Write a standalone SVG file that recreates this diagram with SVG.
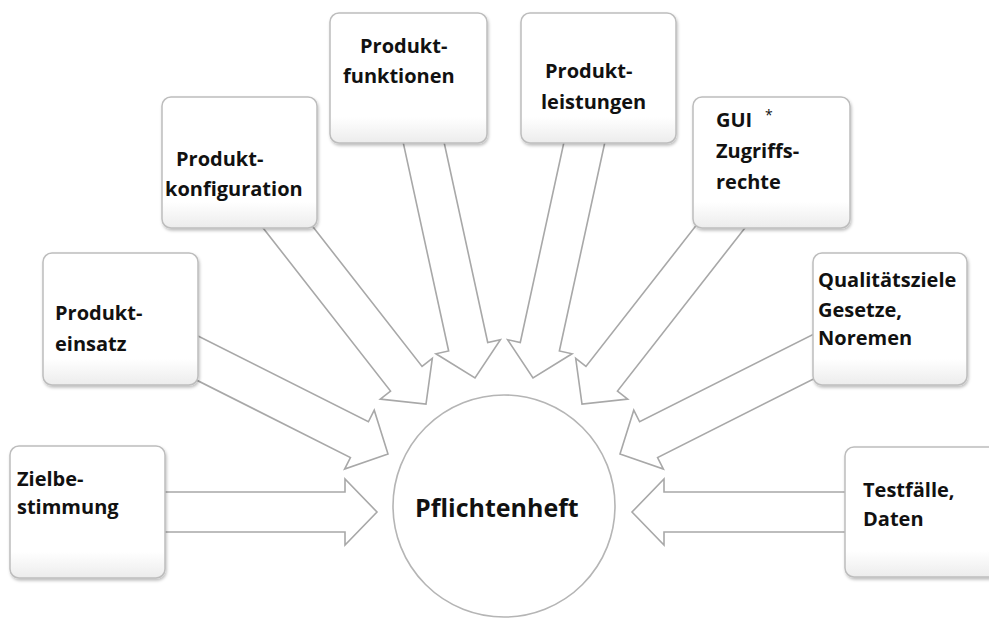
<svg xmlns="http://www.w3.org/2000/svg" width="989" height="627" viewBox="0 0 989 627">
<defs>
<linearGradient id="boxg" x1="0" y1="0" x2="0" y2="1">
<stop offset="0" stop-color="#ffffff"/>
<stop offset="0.8" stop-color="#ffffff"/>
<stop offset="1" stop-color="#ececec"/>
</linearGradient>
<filter id="sh" x="-10%" y="-10%" width="130%" height="130%">
<feDropShadow dx="1" dy="2" stdDeviation="1.8" flood-color="#000" flood-opacity="0.25"/>
</filter>
<path id="arr" d="M-260,-20 L-32,-20 L-32,-33 L0,0 L-32,33 L-32,20 L-260,20 Z"/>
</defs>
<style>
.box{fill:url(#boxg);stroke:#bdbdbd;stroke-width:1.5;filter:url(#sh)}
.a{fill:#fff;stroke:#a8a8a8;stroke-width:1.6;stroke-linejoin:miter}
.t{font-family:"Open Sans","Liberation Sans",sans-serif;font-weight:bold;font-size:20px;fill:#111}
.big{font-size:25px}
</style>
<rect width="989" height="627" fill="#fff"/>
<g id="connectors">
<use href="#arr" class="a" transform="translate(377,512)"/>
<use href="#arr" class="a" transform="translate(388,454) rotate(26.7)"/>
<use href="#arr" class="a" transform="translate(426,404) rotate(52)"/>
<use href="#arr" class="a" transform="translate(475,378) rotate(77.7)"/>
<use href="#arr" class="a" transform="translate(533,378) rotate(102.3)"/>
<use href="#arr" class="a" transform="translate(582,404) rotate(128)"/>
<use href="#arr" class="a" transform="translate(620,454) rotate(153.3)"/>
<use href="#arr" class="a" transform="translate(632,512) rotate(180)"/>
</g>
<g id="zielbestimmung">
<rect class="box" x="10" y="446" width="155" height="132" rx="9"/>
<text class="t" x="17" y="486">Zielbe-</text>
<text class="t" x="17" y="514">stimmung</text>
</g>
<g id="produkteinsatz">
<rect class="box" x="43" y="253" width="155" height="132" rx="9"/>
<text class="t" x="55" y="320">Produkt-</text>
<text class="t" x="55" y="351">einsatz</text>
</g>
<g id="produktkonfiguration">
<rect class="box" x="162" y="97" width="155" height="131" rx="9"/>
<text class="t" x="176" y="166">Produkt-</text>
<text class="t" x="165" y="196">konfiguration</text>
</g>
<g id="produktfunktionen">
<rect class="box" x="330" y="13" width="157" height="130" rx="9"/>
<text class="t" x="360" y="53">Produkt-</text>
<text class="t" x="343" y="83">funktionen</text>
</g>
<g id="produktleistungen">
<rect class="box" x="521" y="13" width="155" height="130" rx="9"/>
<text class="t" x="545" y="78">Produkt-</text>
<text class="t" x="541" y="109">leistungen</text>
</g>
<g id="gui">
<rect class="box" x="693" y="97" width="157" height="131" rx="9"/>
<text class="t" x="716" y="127">GUI</text>
<text class="t" x="765" y="120" style="font-size:14px;font-weight:normal">*</text>
<text class="t" x="716" y="158">Zugriffs-</text>
<text class="t" x="716" y="189">rechte</text>
</g>
<g id="qualitaetsziele">
<rect class="box" x="813" y="253" width="154" height="132" rx="9"/>
<text class="t" x="818" y="287">Qualitätsziele</text>
<text class="t" x="818" y="317">Gesetze,</text>
<text class="t" x="818" y="345">Noremen</text>
</g>
<g id="testfaelle">
<rect class="box" x="845" y="447" width="170" height="130" rx="9"/>
<text class="t" x="863" y="497">Testfälle,</text>
<text class="t" x="863" y="526">Daten</text>
</g>
<g id="pflichtenheft">
<circle cx="504" cy="506" r="111" fill="#fff" stroke="#b5b5b5" stroke-width="1.6"/>
<text class="t big" x="415" y="517">Pflichtenheft</text>
</g>
</svg>
